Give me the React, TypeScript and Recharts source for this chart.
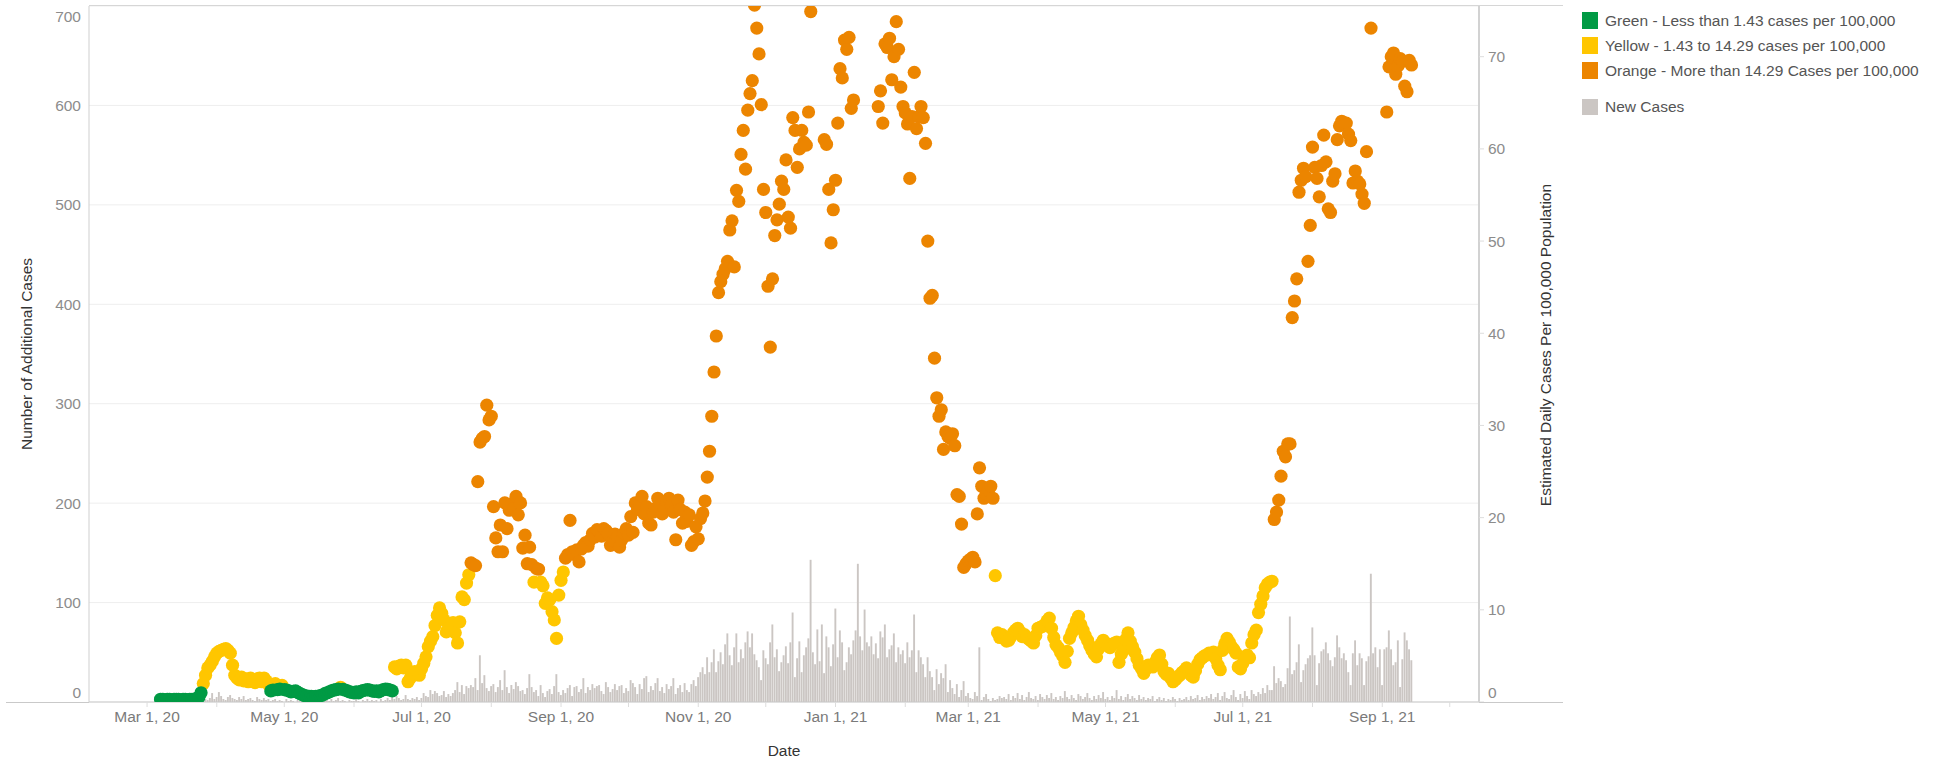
import React from 'react';
import { ComposedChart, Bar, Scatter, XAxis, YAxis, CartesianGrid } from 'recharts';

const W = 1944;
const H = 763;
const FONT = "'Liberation Sans', Arial, sans-serif";

// x values are days since Mar 1, 2020
const monthTicks = [0, 31, 61, 92, 122, 153, 184, 214, 245, 275, 306, 337, 365, 396, 426, 457, 487, 518, 549, 579];
const labelTicks = [0, 61, 122, 184, 245, 306, 365, 426, 487, 549];
const labelTexts = ['Mar 1, 20', 'May 1, 20', 'Jul 1, 20', 'Sep 1, 20', 'Nov 1, 20', 'Jan 1, 21', 'Mar 1, 21', 'May 1, 21', 'Jul 1, 21', 'Sep 1, 21'];
const leftTicks = [0, 100, 200, 300, 400, 500, 600, 700];
const rightTicks = [0, 10, 20, 30, 40, 50, 60, 70];

const levelNames = [
  'Green - Less than 1.43 cases per 100,000',
  'Yellow - 1.43 to 14.29 cases per 100,000',
  'Orange - More than 14.29 Cases per 100,000',
];
const levelLimits = [1.43, 14.29];
const levelColors = ['#009a44', '#ffc600', '#ec8500'];
const barName = 'New Cases';
const barColor = '#cbc6c3';

// Estimated daily cases per 100,000 (one value per day, first day = rateStartDay)
const rateStartDay = 6;
const caseRate: (number | null)[] = [
  0.3, 0.3, 0.2, 0.3, 0.3, 0.2, 0.3, 0.3, 0.3, 0.2,
  0.3, 0.3, 0.2, 0.3, 0.3, 0.3, 0.4, 0.5,
  1.0, 2.0, 2.9, 3.7, 4.0, 4.4, 4.9, 5.3, 5.5, 5.6,
  5.7, 5.8, 5.6, 5.3, 4.0, 2.9, 2.6, 2.4, 2.7, 2.3,
  2.5, 2.2, 2.6, 2.4, 2.1, 2.5, 2.6, 2.2, 2.6, 2.3,
  1.9, 1.2, 1.3, 2.0, 1.35, 1.4, 1.8, 1.35, 1.3, 1.2,
  1.1, 1.15, 1.2, 1.05, 0.9, 0.8, 0.7, 0.65, 0.6, 0.6,
  0.55, 0.6, 0.6, 0.7, 0.75, 0.9, 1.0, 1.1, 1.2, 1.3,
  1.35, 1.4, 1.6, 1.38, 1.3, 1.2, 1.1, 1.05, 1.0, 1.1,
  1.0, 1.15, 1.25, 1.3, 1.35, 1.3, 1.2, 1.15, 1.2, 1.1,
  1.25, 1.35, 1.4, 1.38, 1.3, 1.2,
  3.8, 3.6, 3.9, 4.0, 3.7, 4.0, 2.2, 2.6, 3.0, 3.3,
  3.1, 2.9, 3.6, 4.2, 4.9, 6.0, 6.6, 7.1, 8.3, 9.4,
  10.2, 9.6, 8.9, 7.6, 8.0, 8.2, 8.6, 7.5, 6.4, 8.7,
  11.4, 11.1, 12.9, 13.8, 15.1, 14.9, 14.8, 23.9, 28.2, 28.6,
  28.8, 32.2, 30.6, 31.0, 21.2, 17.8, 16.3, 19.2, 16.3, 21.6,
  18.8, 20.8, 21.5, 21.0, 22.3, 20.3, 21.6, 16.7, 18.1, 15.0,
  16.8, 14.9, 13.0, 14.5, 14.4, 13.0, 12.6, 10.7, 11.3, 11.1,
  9.8, 8.9, 6.9, 11.6, 13.2, 14.1, 15.6, 16.0, 19.7, 16.3,
  16.0, 16.5, 15.2, 16.6, 17.0, 17.3, 16.9, 17.6, 18.3, 17.9,
  18.7, 18.5, 18.0, 18.8, 18.6, 18.3, 17.0, 17.5, 18.2, 17.9,
  16.8, 17.6, 18.3, 18.8, 18.1, 20.1, 18.4, 21.6, 20.9, 21.5,
  22.3, 20.4, 21.2, 19.4, 19.2, 20.6, 21.0, 22.1, 21.4, 20.4,
  21.0, 21.7, 22.1, 21.3, 20.6, 17.6, 21.9, 20.9, 19.4, 20.6,
  19.6, 20.3, 17.0, 17.4, 19.0, 17.7, 19.9, 20.5, 21.8, 24.4,
  27.2, 31.0, 35.8, 39.7, 44.4, 45.6, 46.4, 47.0, 47.8, 51.2,
  52.2, 47.2, 55.5, 54.3, 59.4, 62.0, 57.8, 64.2, 66.0, 67.4,
  75.6, 73.1, 70.3, 64.8, 55.6, 53.1, 45.1, 38.5, 45.9, 50.6,
  52.3, 54.0, 56.5, 55.6, 58.8, 52.6, 51.4, 63.4, 62.0, 58.0,
  60.0, 62.0, 60.7, 60.4, 64.0, 74.9, null, null, null, null,
  null, 61.0, 60.5, 55.6, 49.8, 53.4, 56.6, 62.8, 68.7, 67.7,
  71.8, 70.8, 72.1, 64.4, 65.3, null, null, null, null, null,
  null, null, null, null, null, 64.6, 66.3, 62.8, 71.4, 71.0,
  72.0, 67.5, 70.0, 73.8, 70.8, 66.7, 64.6, 63.9, 62.7, 56.8,
  63.5, 68.3, 62.2, 63.5, 64.6, 63.4, 60.6, 50.0, 43.8, 44.1,
  37.3, 33.0, 31.0, 31.7, 27.4, 29.3, 28.8, 28.6, 29.1, 27.8,
  22.5, 22.3, 19.3, 14.6, 15.0, 15.3, 15.5, 15.7, 15.2, 20.4,
  25.4, 23.4, 22.1, 22.6, 23.0, 23.4, 22.1, 13.7, 7.5, 7.0,
  7.3, 6.9, 6.6, 6.7, 7.1, 7.5, 7.8, 8.0, 7.6, 7.1,
  7.3, 7.0, 6.8, 6.6, 6.4, 7.2, 8.0, 8.1, 8.2, 8.4,
  8.8, 9.1, 8.0, 7.0, 6.2, 5.9, 5.4, 5.0, 4.3, 5.5,
  6.9, 7.5, 8.1, 8.8, 9.3, 8.4, 7.8, 7.2, 6.7, 6.1,
  5.6, 5.2, 4.9, 5.8, 6.3, 6.7, 6.4, 6.1, 5.9, 6.2,
  6.4, 6.5, 4.3, 5.2, 5.6, 6.8, 7.5, 6.6, 6.0, 5.4,
  4.7, 4.0, 3.6, 3.1, 3.6, 4.0, 3.9, 3.8, 4.3, 4.8,
  5.1, 4.1, 3.3, 3.0, 3.1, 2.6, 2.2, 2.4, 2.7, 2.9,
  3.2, 3.4, 3.7, 3.3, 2.9, 2.7, 3.4, 4.1, 4.6, 4.8,
  5.0, 5.1, 5.3, 5.2, 5.4, 4.7, 4.0, 3.5, 5.6, 6.3,
  6.9, 6.5, 6.0, 5.7, 5.3, 3.8, 3.6, 4.2, 4.7, 5.1,
  4.8, 6.4, 7.3, 7.8, 9.7, 10.6, 11.5, 12.4, 12.8, 13.0,
  13.1, 19.8, 20.6, 21.9, 24.5, 27.2, 26.6, 28.0, 28.0, 41.7,
  43.5, 45.9, 55.3, 56.6, 57.9, 57.0, 47.8, 51.7, 60.2, 58.0,
  56.8, 54.8, 58.2, 61.5, 58.6, 53.5, 53.1, 56.5, 57.3, 61.0,
  62.5, 63.0, 62.8, 62.8, 61.6, 60.9, 56.3, 57.6, 56.5, 56.2,
  55.1, 54.1, 59.7, null, 73.1, null, null, null, null, null,
  null, 64.0, 68.9, 70.0, 70.4, 68.1, 69.0, 69.8, 69.5, 66.8,
  66.2, 69.6, 69.1,
];

// Daily new cases (one value per day, first day = casesStartDay)
const casesStartDay = 24;
const newCases: number[] = [
  1, 2, 3, 2, 4, 9, 3,
  5, 10, 6, 3, 2, 5, 7,
  4, 3, 2, 5, 3, 6, 2,
  3, 4, 2, 1, 5, 3, 2,
  4, 2, 3, 1, 2, 3, 1,
  2, 1, 0, 3, 1, 2, 1,
  0, 2, 1, 1, 0, 1, 2,
  1, 0, 1, 2, 1, 0, 1,
  2, 1, 3, 1, 2, 4, 1,
  2, 1, 0, 2, 1, 1, 3,
  1, 0, 2, 1, 3, 1, 2,
  1, 2, 0, 3, 1, 2, 4,
  2, 5, 3, 6, 4, 2, 3,
  7, 3, 2, 4, 3, 5, 2,
  4, 9, 6, 5, 12, 8, 11,
  9, 6, 7, 11, 5, 8, 6,
  9, 12, 20, 10, 17, 8, 16,
  14, 17, 15, 24, 12, 47, 19,
  27, 14, 11, 16, 18, 10, 15,
  22, 12, 32, 15, 9, 17, 13,
  20, 16, 11, 12, 8, 14, 28,
  15, 10, 12, 6, 17, 9, 5,
  11, 13, 8, 16, 28, 10, 7,
  12, 9, 14, 17, 6, 15, 16,
  10, 13, 24, 9, 15, 12, 18,
  14, 16, 17, 11, 8, 20, 15,
  10, 13, 18, 12, 16, 17, 9,
  14, 11, 22, 19, 15, 8, 18,
  13, 24, 26, 10, 16, 12, 19,
  24, 11, 15, 9, 18, 13, 16,
  24, 8, 14, 17, 10, 19, 12,
  10, 18, 22, 16, 25, 30, 35,
  28, 45, 30, 40, 53, 30, 41,
  50, 38, 58, 69, 47, 37, 55,
  69, 40, 53, 44, 60, 71, 55,
  69, 48, 42, 35, 22, 52, 44,
  38, 60, 78, 45, 53, 31, 40,
  47, 56, 39, 60, 90, 25, 44,
  61, 30, 47, 55, 64, 143, 50,
  38, 73, 41, 78, 29, 66, 55,
  36, 58, 94, 45, 72, 60, 32,
  40, 55, 48, 62, 72, 139, 66,
  52, 93, 60, 56, 66, 48, 59,
  44, 71, 65, 78, 45, 53, 57,
  69, 40, 55, 48, 52, 39, 60,
  45, 52, 88, 30, 52, 45, 38,
  25, 45, 31, 25, 12, 33, 18,
  29, 24, 38, 10, 22, 14, 8,
  18, 5, 12, 21, 6, 9, 4,
  3, 10, 6, 55, 2, 5, 8,
  3, 1, 4, 2, 3, 6, 4,
  5, 3, 8, 2, 6, 4, 9,
  3, 7, 2, 5, 10, 4, 3,
  6, 2, 8, 5, 3, 7, 4,
  9, 3, 5, 2, 6, 4, 11,
  5, 3, 7, 4, 2, 8, 6,
  3, 5, 9, 4, 2, 6, 3,
  7, 4, 10, 3, 5, 2, 6,
  4, 12, 3, 6, 2, 5, 8,
  3, 6, 4, 2, 7, 3, 5,
  2, 4, 3, 6, 1, 3, 5,
  2, 4, 1, 3, 2, 5, 3,
  1, 4, 2, 3, 5, 2, 6,
  3, 4, 7, 2, 5, 3, 6,
  4, 8, 3, 5, 9, 2, 6,
  10, 4, 3, 7, 12, 5, 2,
  8, 4, 11, 6, 3, 12, 8,
  6, 10, 8, 14, 9, 17, 12,
  12, 36, 19, 24, 21, 15, 18,
  34, 86, 28, 32, 40, 58, 20,
  32, 38, 44, 47, 75, 47, 17,
  39, 51, 53, 60, 49, 42, 36,
  45, 67, 55, 44, 49, 42, 30,
  17, 49, 62, 37, 49, 44, 17,
  41, 46, 129, 49, 55, 35, 53,
  17, 53, 55, 72, 53, 37, 40,
  62, 15, 43, 70, 62, 53, 42,
];

type RateRow = { day: number; rate: number };
const barRows = newCases.map((v, i) => ({ day: casesStartDay + i, cases: v }));
const rateRows: RateRow[] = caseRate
  .map((v, i) => ({ day: rateStartDay + i, rate: v }))
  .filter((r) => r.rate !== null) as RateRow[];
const levelRows: RateRow[][] = [
  rateRows.filter((r) => r.rate < levelLimits[0]),
  rateRows.filter((r) => r.rate >= levelLimits[0] && r.rate <= levelLimits[1]),
  rateRows.filter((r) => r.rate > levelLimits[1]),
];

const PLOT_LEFT = 89;
const PLOT_RIGHT = 1479;
const PLOT_TOP = 6;
const PLOT_BOTTOM = 702;

const tickText = { fontFamily: FONT, fontSize: 15.5, fill: '#8c8c8c' };

const XTick = (props: any) => {
  const { x, y, payload } = props;
  const idx = labelTicks.indexOf(payload.value);
  if (idx < 0) return <g />;
  return (
    <text x={x} y={y} dy="0.71em" textAnchor="middle" {...tickText} fill="#7a7a7a">
      {labelTexts[idx]}
    </text>
  );
};

const LeftTick = (props: any) => {
  const { x, y, payload } = props;
  let dy = 5.5;
  if (payload.value === 0) dy = -4.5;
  if (payload.value === 700) dy = 16;
  return (
    <text x={x} y={y + dy} textAnchor="end" {...tickText}>
      {payload.value}
    </text>
  );
};

const RightTick = (props: any) => {
  const { x, y, payload } = props;
  let dy = 5.5;
  if (payload.value === 0) dy = -4.5;
  return (
    <text x={x} y={y + dy} textAnchor="start" {...tickText}>
      {payload.value}
    </text>
  );
};

const makeDot = (color: string) => (props: any) => {
  const { cx, cy } = props;
  if (cx == null || cy == null) return <g />;
  return <circle cx={cx} cy={cy} r={6.6} fill={color} />;
};

const dotShapes = levelColors.map((c) => makeDot(c));
const drawOrder = [1, 2, 0];

export default function App() {
  return (
    <div style={{ position: 'absolute', left: 0, top: 0, width: W, height: H, background: '#fff', fontFamily: FONT }}>
      <ComposedChart
        width={W}
        height={H}
        data={barRows}
        margin={{ top: PLOT_TOP, right: W - PLOT_RIGHT - 100, bottom: 0, left: 0 }}
      >
        <CartesianGrid yAxisId="left" vertical={false} stroke="#eeeeee" />
        <XAxis
          dataKey="day"
          type="number"
          domain={[-25.8, 592]}
          allowDataOverflow
          ticks={monthTicks}
          interval={0}
          tick={<XTick />}
          tickSize={5}
          tickMargin={4}
          tickLine={{ stroke: '#dddddd' }}
          axisLine={{ stroke: '#c9c9c9' }}
          height={H - PLOT_BOTTOM}
        />
        <YAxis
          yAxisId="left"
          orientation="left"
          width={PLOT_LEFT}
          domain={[0, 700]}
          ticks={leftTicks}
          interval={0}
          allowDataOverflow
          tick={<LeftTick />}
          tickSize={0}
          tickMargin={8}
          tickLine={false}
          axisLine={{ stroke: '#cfcfcf' }}
        />
        <YAxis
          yAxisId="right"
          orientation="right"
          width={100}
          domain={[0, 75.5]}
          ticks={rightTicks}
          interval={0}
          allowDataOverflow
          tick={<RightTick />}
          tickSize={5}
          tickMargin={4}
          tickLine={{ stroke: '#dddddd' }}
          axisLine={{ stroke: '#d2d2d2', strokeWidth: 2 }}
        />
        <Bar yAxisId="left" dataKey="cases" name={barName} fill={barColor} barSize={1.9} isAnimationActive={false} />
        {drawOrder.map((k) => (
          <Scatter
            key={k}
            yAxisId="right"
            name={levelNames[k]}
            data={levelRows[k]}
            dataKey="rate"
            fill={levelColors[k]}
            shape={dotShapes[k]}
            isAnimationActive={false}
          />
        ))}
      </ComposedChart>

      <svg width={W} height={H} style={{ position: 'absolute', left: 0, top: 0, pointerEvents: 'none' }}>
        <line x1={PLOT_LEFT} x2={1563} y1={5.5} y2={5.5} stroke="#d6d6d6" />
        <line x1={6} x2={PLOT_LEFT} y1={PLOT_BOTTOM + 0.5} y2={PLOT_BOTTOM + 0.5} stroke="#c9c9c9" />
        <line x1={PLOT_RIGHT} x2={1563} y1={PLOT_BOTTOM + 0.5} y2={PLOT_BOTTOM + 0.5} stroke="#c9c9c9" />
        <text
          x={26}
          y={354}
          transform="rotate(-90 26 354)"
          textAnchor="middle"
          dominantBaseline="central"
          fontFamily={FONT}
          fontSize={15.5}
          fill="#333"
        >
          Number of Additional Cases
        </text>
        <text
          x={1545}
          y={345}
          transform="rotate(-90 1545 345)"
          textAnchor="middle"
          dominantBaseline="central"
          fontFamily={FONT}
          fontSize={15.5}
          fill="#333"
        >
          Estimated Daily Cases Per 100,000 Population
        </text>
        <text x={784} y={750} textAnchor="middle" dominantBaseline="central" fontFamily={FONT} fontSize={15.5} fill="#333">
          Date
        </text>
      </svg>

      <div style={{ position: 'absolute', left: 1582, top: 0, width: 360, fontSize: 15.5, color: '#555' }}>
        {levelNames.map((n, i) => (
          <div key={n} style={{ position: 'absolute', left: 0, top: 12 + i * 25, height: 17, display: 'flex', alignItems: 'center', whiteSpace: 'nowrap' }}>
            <div style={{ width: 16, height: 17, background: levelColors[i], marginRight: 7 }} />
            <span>{n}</span>
          </div>
        ))}
        <div style={{ position: 'absolute', left: 0, top: 99, height: 16, display: 'flex', alignItems: 'center', whiteSpace: 'nowrap' }}>
          <div style={{ width: 16, height: 16, background: barColor, marginRight: 7 }} />
          <span>{barName}</span>
        </div>
      </div>
    </div>
  );
}
